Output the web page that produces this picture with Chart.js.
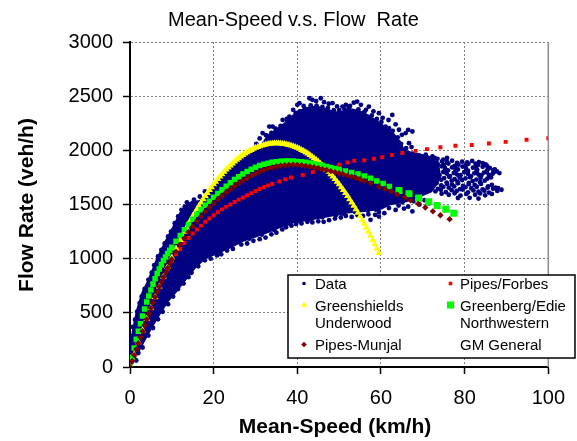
<!DOCTYPE html>
<html>
<head>
<meta charset="UTF-8">
<title>Mean-Speed v.s. Flow Rate</title>
<script src="https://cdn.jsdelivr.net/npm/chart.js"></script>
<style>
  body { margin: 0; background: #fff; }
  #wrap { width: 577px; height: 441px; }
</style>
</head>
<body>
<div id="wrap"><canvas id="chart" width="577" height="441"></canvas></div>
<script>
const FONT = "'Liberation Sans', Arial, sans-serif";

const speedTicks = [0, 20, 40, 60, 80, 100];
const flowTicks = [0, 500, 1000, 1500, 2000, 2500, 3000];

const seriesNames = ['Data', 'Pipes/Forbes', 'Greenshields', 'Greenberg/Edie',
  'Underwood', 'Northwestern', 'Pipes-Munjal', 'GM General'];

// outline of the solid part of the data cloud [speed, flow]
const dataCore = [
  [0,0],[0,160],[0.8,360],[1.8,540],[3,690],[4.4,800],[6.5,1000],[8.5,1160],[10.3,1290],
  [12,1420],[13.5,1490],[15,1530],[16.5,1530],[18,1560],[19,1610],[20,1660],[22,1755],
  [24,1840],[26,1905],[28,1960],[30,2000],[31,2030],[32,2080],[33,2140],[35,2190],
  [37,2250],[39,2320],[41,2370],[43,2400],[45,2400],[47,2380],[49,2350],[51,2360],
  [53,2380],[55,2360],[57,2320],[59,2270],[61,2210],[63,2150],[64.5,2080],[65.5,2000],
  [67.5,1975],[70,1955],[72,1935],[73.5,1880],[74,1800],[73.5,1700],[72,1620],[69,1570],
  [66,1530],[62,1500],[60,1460],[56,1440],[52,1425],
  [48,1395],[45,1375],[42,1355],[39,1335],[36,1295],[33,1245],[30,1205],[27,1165],
  [24,1105],[21,1055],[18,1005],[15.5,915],[13,795],[11,695],[9,605],[7,485],[5,355],
  [3,215],[1.5,105],[0.5,25]
];

// single measurements around the cloud [speed, flow]
const dataPoints = [
  [0,190],[0.3,280],[0.7,370],[1.2,436],[1.7,510],[2.3,590],[2.8,651],[3.5,720],[4.4,805],
  [5.2,870],[5.8,940],[6.7,1020],[7.5,1080],[8.3,1140],[9.1,1205],[9.8,1250],[10.7,1328],
  [11.5,1390],[12.3,1451],[13.1,1481],[13.6,1520],[14.5,1500],[15.3,1545],[16.7,1574],[17.9,1620],
  [30.2,2060],[31,2110],[31.7,2159],[32.5,2140],[33.3,2219],[34.1,2219],[35.7,2189],[36.5,2281],
  [37.5,2290],[38.1,2312],[39,2374],[40,2420],[40.5,2435],[41.5,2410],[42.9,2481],[43.6,2466],
  [44.5,2455],[45.6,2481],[46.4,2445],[47.5,2430],[48.4,2435],[49.5,2405],[50.8,2404],[51.6,2420],
  [52.6,2410],[53.5,2440],[54.3,2450],[55.2,2420],[56.4,2374],[57.1,2404],[58.2,2360],[59.5,2343],
  [60.4,2300],[61.1,2219],[61.8,2280],[62.7,2327],[63.5,2240],[64.3,2190],[65,2143],[65.9,2159],
  [66.5,2189],[67.5,2174],[66.7,2066],[66,2020],[67.3,2030],
  [33.8,2160],[34.8,2200],[36,2225],[37.6,2272],[39.6,2345],[40.6,2360],[41.8,2385],[43.2,2415],
  [44.6,2412],[46,2400],[47.3,2392],[48.7,2370],[50,2372],[51.3,2378],[52.3,2392],[54.6,2378],
  [56,2352],[57.8,2322],[59,2290],[60.1,2262],[61.9,2205],[62.8,2180],[64,2120],[64.8,2060],
  [64.5,1965],[66,1958],[67.6,1970],[69.2,1952],[70.7,1960],[72.3,1945],
  [68.5,1928],[71,1935],[73.5,1922],[75.8,1930],
  [67.2,1905],[69.8,1900],[72.1,1908],[74.6,1897],[77,1905],[79.4,1895],[81.8,1902],[83.4,1890],
  [66.3,1878],[68.7,1872],[71.2,1882],[73.6,1870],[76.1,1878],[78.5,1868],[80.9,1876],[83.2,1865],[85,1870],
  [67.1,1848],[69.6,1855],[72,1845],[74.5,1852],[77,1842],[79.5,1850],[82,1840],[84.3,1848],[86,1838],[87.2,1825],
  [66.2,1822],[68.6,1828],[71.1,1818],[73.5,1826],[76,1815],[78.4,1824],[80.8,1812],[83,1820],[85.3,1810],[87.7,1805],
  [67.4,1796],[69.9,1802],[72.4,1792],[74.9,1800],[77.4,1790],[79.9,1798],[82.3,1788],[84.6,1795],[86.7,1785],[88.3,1790],
  [66.5,1768],[69,1775],[71.5,1765],[74,1772],[76.5,1762],[79,1770],[81.5,1760],[84,1768],
  [67.6,1740],[70.1,1746],[72.6,1736],[75.1,1744],[77.6,1734],[80.2,1742],[82.8,1730],[85.4,1738],
  [68.2,1712],[70.8,1706],[73.2,1715],[75.7,1702],[78.3,1710],[81,1700],[83.7,1706],
  [69.5,1680],[72,1686],[74.4,1676],[77,1684],[79.6,1672],[82.4,1680],[85.6,1668],[87.4,1655],
  [71,1652],[73.6,1645],[76.2,1655],[78.9,1642],[81.6,1650],[84.3,1640],[86.8,1646],[88.8,1636],
  [73,1622],[75.5,1615],[78.1,1625],[80.8,1612],[83.3,1618],[85.8,1610],
  [76.2,1590],[79,1582],[82.5,1590],[84.9,1585],[78.4,1560],[81.2,1562],[83.3,1555],
  [65.8,1945],[68.3,1940],[70.6,1932],[72.8,1930],[74.9,1915],
  [66,1892],[68.4,1890],[70.9,1895],[73.3,1885],[75.8,1890],[78.2,1884],[80.6,1888],[82.6,1878],[84.3,1882],
  [67.5,1862],[70.1,1866],[72.5,1860],[75,1864],[77.6,1856],[80.2,1862],[82.7,1854],[85.3,1858],
  [68,1836],[70.4,1840],[72.9,1834],[75.3,1838],[77.8,1830],[80.3,1836],[82.8,1828],[85.6,1830],[86.8,1818],
  [67.9,1810],[70.3,1815],[72.8,1808],[75.3,1812],[77.8,1804],[80.3,1810],[82.9,1802],[85.3,1798],[87,1800],
  [68.1,1783],[70.7,1788],[73.2,1780],[75.7,1786],[78.2,1776],[80.8,1782],[83.3,1776],[85.8,1772],
  [68.9,1755],[71.3,1758],[73.8,1750],[76.3,1756],[78.8,1748],[81.3,1752],[83.8,1745],[86.3,1750],
  [69.4,1726],[71.9,1722],[74.4,1728],[76.9,1720],[79.4,1726],[81.9,1716],[84.8,1720],
  [70.8,1694],[73.3,1698],[75.8,1690],[78.4,1696],[81,1688],[83.9,1690],[86.5,1680],
  [72.3,1666],[74.9,1662],[77.5,1668],[80.2,1660],[82.9,1664],[85.5,1655],[88,1650],
  [74.3,1636],[76.9,1632],[79.5,1638],[82.1,1630],[84.7,1628],[87.8,1625],
  [74.5,1600],[77.6,1604],[80.4,1598],[83.7,1602],[86.5,1598],
  [62.7,1528],[65.1,1520],[67.8,1530],[70.4,1540],[61.9,1467],[64.2,1490],[66.5,1480],[69.2,1500],
  [71.5,1510],[59.5,1430],[63.5,1450],[65.5,1462],[67.5,1436],
  [1.5,60],[2,129],[3,180],[4.4,290],[5.5,360],[6.7,440],[7.8,510],[9.1,580],[10.3,650],[11.5,720],
  [12.8,770],[14,830],[14.7,870],[16.3,930],[17.9,985],[19.3,1000],[20.8,1030],[21.8,1040],[23.2,1075],
  [24.6,1090],[26.6,1130],[28,1140],[29.5,1165],[31,1180],[32.4,1195],[33.8,1225],[35,1240],[36.4,1270],
  [37.3,1290],[38.6,1305],[39.7,1320],[41,1325],[42.4,1340],[43.6,1335],[45,1345],[46.3,1340],[47.6,1355],
  [49,1370],[50.4,1380],[51.6,1395],[53,1385],[54.4,1400],[55.7,1395],[57,1410],[57.5,1359],[58.6,1405],
  [59.5,1389],[60.8,1420],
  [28.5,1185],[31.5,1222],[34.5,1265],[38,1325],[40.5,1345],[43,1362],[46,1382],[49.2,1400],
  [51,1415],[53.8,1430],[56.8,1445],[58.8,1452]
];

const pipesForbes = [
  [0,0],[1,110],[2,220],[3,330],[4,438],[5,540],[6,640],[7,735],[8,825],[9,905],[10,980],[11,1040],
  [12,1090],[13,1145],[14,1190],[15,1232],[16,1270],[17,1305],[18,1340],[19,1370],[20,1400],[21,1428],
  [22,1455],[23,1478],[24,1500],[25,1523],[26,1545],[27,1565],[28,1585],[29,1605],[30,1625],[31,1643],
  [32,1660],[33,1675],[34,1690],[35.7,1712],[37.1,1732],[38.5,1749],[41.3,1772],[43.7,1800],[46,1826],
  [48,1845],[50,1866],[52,1888],[53.6,1903],[56,1908],[58.3,1922],[60.3,1937],[62.6,1957],[65.1,1976],
  [68.3,1995],[71,2011],[74.2,2028],[77.8,2043],[81.7,2050],[85.8,2063],[89.8,2078],[94.8,2097],[100,2112]
];

const greenshields = [
  [0,0],[1,116],[2,229],[3,339],[4,445],[5,548],[6,647],[7,743],[8,836],[9,925],[10,1011],[11,1094],
  [12,1173],[12.5,1212],[13,1249],[13.5,1286],[14,1322],[14.5,1357],[15,1391],[15.5,1424],[16,1456],
  [16.5,1488],[17,1519],[17.5,1549],[18,1578],[18.5,1606],[19,1633],[19.5,1660],[20,1686],[20.5,1711],
  [21,1735],[21.5,1758],[22,1780],[22.5,1802],[23,1822],[23.5,1842],[24,1861],[24.5,1879],[25,1896],
  [25.5,1913],[26,1928],[26.5,1943],[27,1957],[27.5,1970],[28,1982],[28.5,1994],[29,2004],[29.5,2014],
  [30,2023],[30.5,2031],[31,2038],[31.5,2044],[32,2050],[32.5,2054],[33,2058],[33.5,2061],[34,2063],
  [34.5,2065],[35,2065],[35.5,2065],[36,2063],[36.5,2061],[37,2058],[37.5,2054],[38,2050],[38.5,2044],
  [39,2038],[39.5,2031],[40,2023],[40.5,2014],[41,2004],[41.5,1994],[42,1982],[42.5,1970],[43,1957],
  [43.5,1943],[44,1928],[44.5,1913],[45,1896],[45.5,1879],[46,1861],[46.5,1842],[47,1822],[47.5,1802],
  [48,1780],[48.5,1758],[49,1735],[49.5,1711],[50,1686],[50.5,1660],[51,1633],[51.5,1606],[52,1578],
  [52.5,1549],[53,1519],[53.5,1488],[54,1456],[54.5,1424],[55,1391],[55.5,1357],[56,1322],[56.5,1286],
  [57,1249],[57.5,1212],[58,1173],[58.5,1134],[59,1094],[59.5,1053]
];

const greenbergEdie = [
  [0,0],[0.5,90],[1,175],[1.5,255],[2,330],[2.5,400],[3,470],[3.5,535],[4,600],[4.5,655],[5,710],
  [5.5,765],[6,815],[6.5,862],[7,905],[7.5,945],[8,982],[8.5,1015],[9,1047],[9.5,1077],[10,1105],
  [11,1160],[12,1213],[13,1266],[14,1316],[15,1364],[16,1410],[17,1452],[18,1492],[19,1530],[20,1566],
  [21,1601],[22,1635],[23,1668],[24,1700],[25,1730],[26,1757],[27,1782],[28,1805],[29,1826],[30,1844],
  [31,1859],[32,1871],[33,1881],[34,1889],[35,1895],[36,1899],[37,1901],[38,1902],[39,1901],[40,1898],
  [41,1894],[42,1889],[43,1883],[44,1876],[45,1868],[46,1859],[47,1850],[48,1841],[49,1832],[50,1823],
  [51.5,1810],[53,1796],[54.5,1781],[56,1762],[57.5,1742],[59,1718],[60.5,1694],[62,1667],[64.3,1629],
  [66.7,1600],[69,1559],[71.4,1526],[73.4,1490],[75.5,1457],[77.4,1420]
];

const pipesMunjal = [
  [0,0],[0.5,55],[1,110],[1.5,165],[2,220],[2.5,275],[3,330],[3.5,385],[4,440],[4.5,493],[5,545],
  [5.5,595],[6,645],[6.5,693],[7,740],[7.5,785],[8,830],[8.5,873],[9,915],[9.5,955],[10,995],[11,1065],
  [12,1130],[13,1190],[14,1245],[15,1297],[16,1345],[17,1390],[18,1432],[19,1472],[20,1510],[21,1546],
  [22,1580],[23,1612],[24,1642],[25,1670],[26,1697],[27,1722],[28,1745],[29,1766],[30,1785],[31,1802],
  [32,1818],[33,1831],[34,1842],[35,1851],[36,1858],[37,1863],[38,1866],[39,1867],[40,1866],[41,1862],
  [42,1857],[43,1851],[44,1844],[45,1836],[46,1827],[47,1818],[48,1808],[49,1798],[50,1788],[51,1778],
  [52,1767],[53,1756],[54,1744],[55,1731],[56,1718],[57.5,1697],[59.5,1664],[61,1642],[62.5,1620],
  [63.9,1592],[65.7,1565],[67.1,1538],[68.9,1506],[70.6,1473],[72.4,1437],[74.2,1401],[76.4,1365]
];

const xy = arr => arr.map(([x, y]) => ({ x, y }));

function series(name, data, style, radius, color, order) {
  return {
    label: name, data: xy(data), pointStyle: style, pointRadius: radius,
    pointBackgroundColor: color, pointBorderColor: color, pointBorderWidth: 0,
    showLine: false, order: order
  };
}

// draws a legend marker the same way the points look
function mark(ctx, style, x, y, r, color) {
  ctx.fillStyle = color;
  ctx.beginPath();
  if (style === 'circle') ctx.arc(x, y, r, 0, Math.PI * 2);
  else if (style === 'rect') ctx.rect(x - r, y - r, r * 2, r * 2);
  else if (style === 'triangle') {
    ctx.moveTo(x, y - r * 1.15); ctx.lineTo(x + r, y + r * 0.6); ctx.lineTo(x - r, y + r * 0.6);
    ctx.closePath();
  } else if (style === 'rectRot') {
    ctx.moveTo(x, y - r); ctx.lineTo(x + r, y); ctx.lineTo(x, y + r); ctx.lineTo(x - r, y);
    ctx.closePath();
  }
  ctx.fill();
}

const legendMarks = {
  'Data': ['circle', 1.8, '#000080'],
  'Pipes/Forbes': ['rect', 1.8, '#ff0000'],
  'Greenshields': ['triangle', 3, '#ffff00'],
  'Greenberg/Edie': ['rect', 3.6, '#00ff00'],
  'Pipes-Munjal': ['rectRot', 2.8, '#800000']
};

const decor = {
  id: 'decor',
  afterDraw(chart) {
    const ctx = chart.ctx, a = chart.chartArea;
    ctx.save();
    ctx.strokeStyle = '#8c8c8c';
    ctx.lineWidth = 1.5;
    ctx.beginPath(); ctx.moveTo(a.right, a.top); ctx.lineTo(a.right, a.bottom); ctx.stroke();

    ctx.fillStyle = '#000';
    ctx.font = '20px ' + FONT;
    ctx.textAlign = 'left';
    ctx.textBaseline = 'alphabetic';
    ctx.fillText('Mean-Speed v.s. Flow  Rate', 168, 26);

    ctx.font = 'bold 21px ' + FONT;
    ctx.textAlign = 'center';
    ctx.fillText('Mean-Speed (km/h)', 335, 433);
    ctx.save();
    ctx.translate(32.5, 205);
    ctx.rotate(-Math.PI / 2);
    ctx.fillText('Flow Rate (veh/h)', 0, 0);
    ctx.restore();

    // legend box, runs out to the right edge like the original
    ctx.fillStyle = '#fff';
    ctx.fillRect(288, 275, 287, 83);
    ctx.strokeStyle = '#000';
    ctx.lineWidth = 1.5;
    ctx.strokeRect(288, 275, 287, 83);
    const markX = [304, 450.5], textX = [315, 460], rows = [289, 310.5, 328, 350];
    ctx.font = '15px ' + FONT;
    ctx.textAlign = 'left';
    seriesNames.forEach((name, i) => {
      const col = i % 2, row = Math.floor(i / 2);
      const m = legendMarks[name];
      if (m) mark(ctx, m[0], markX[col], rows[row] - 5.5, m[1], m[2]);
      ctx.fillStyle = '#000';
      ctx.fillText(name, textX[col], rows[row]);
    });
    ctx.restore();
  }
};

const axisFont = { family: FONT, size: 20 };

new Chart(document.getElementById('chart'), {
  type: 'scatter',
  data: {
    datasets: [
      {
        label: 'Data cloud', type: 'line', data: xy(dataCore), showLine: true, fill: 'shape',
        backgroundColor: '#000080', borderColor: '#000080', borderWidth: 2, pointRadius: 0, order: 20
      },
      series(seriesNames[0], dataPoints, 'circle', 2.4, '#000080', 10),
      series(seriesNames[1], pipesForbes, 'rect', 2.8, '#ff0000', 8),
      series(seriesNames[2], greenshields, 'triangle', 4, '#ffff00', 7),
      series(seriesNames[3], greenbergEdie, 'rect', c => (c.raw && c.raw.x > 62 ? 5 : 3.9), '#00ff00', 6),
      series(seriesNames[4], [], false, 0, '#000', 5),
      series(seriesNames[5], [], false, 0, '#000', 4),
      series(seriesNames[6], pipesMunjal, 'rectRot', 3.2, '#800000', 3),
      series(seriesNames[7], [], false, 0, '#000', 2)
    ]
  },
  options: {
    responsive: false,
    animation: false,
    events: [],
    layout: { padding: { left: 0, right: 27, top: 42, bottom: 0 } },
    plugins: { legend: { display: false }, tooltip: { enabled: false }, title: { display: false } },
    scales: {
      x: {
        type: 'linear', min: 0, max: 100,
        afterBuildTicks: s => { s.ticks = speedTicks.map(v => ({ value: v })); },
        afterFit: s => { s.height = 74; },
        grid: { color: '#808080', lineWidth: 1, tickLength: 7, tickColor: '#000', tickWidth: 1.5 },
        border: { display: true, color: '#000', width: 2, dash: [2, 2] },
        ticks: { color: '#000', font: axisFont, padding: 12, maxRotation: 0, callback: v => String(v) }
      },
      y: {
        type: 'linear', min: 0, max: 3000,
        afterBuildTicks: s => { s.ticks = flowTicks.map(v => ({ value: v })); },
        afterFit: s => { s.width = 130; },
        grid: { color: '#808080', lineWidth: 1, tickLength: 7, tickColor: '#000', tickWidth: 1.5 },
        border: { display: true, color: '#000', width: 2, dash: [2, 2] },
        ticks: { color: '#000', font: axisFont, padding: 10, callback: v => String(v) }
      }
    }
  },
  plugins: [decor]
});
</script>
</body>
</html>
